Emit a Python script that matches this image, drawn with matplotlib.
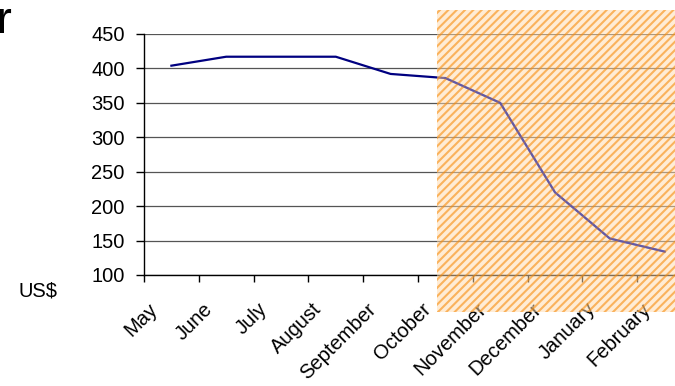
import matplotlib
matplotlib.use("Agg")
import matplotlib.pyplot as plt
from matplotlib.patches import Rectangle
from matplotlib.transforms import ScaledTranslation

plt.rcParams['font.family'] = ['Liberation Sans', 'DejaVu Sans']
plt.rcParams['hatch.linewidth'] = 1.5

months = ["May", "June", "July", "August", "September", "October",
          "November", "December", "January", "February"]
price = [404, 417, 417, 417, 392, 386, 350, 220, 153, 134]
y_ticks = [100, 150, 200, 250, 300, 350, 400, 450]
forecast_start = 5  # index of October, where the shaded region begins

W, H = 675, 386
DPI = 100
fig = plt.figure(figsize=(W / DPI, H / DPI), dpi=DPI)

# plot area (runs slightly past the right edge of the canvas)
left, right, top, bottom = 144, 692, 34, 275
ax = fig.add_axes([left / W, 1 - bottom / H, (right - left) / W, (bottom - top) / H])

x = list(range(len(months)))
ax.plot(x, price, color='#000080', lw=1.6, solid_joinstyle='round', zorder=3)

ax.set_xlim(-0.5, len(months) - 0.5)
ax.set_ylim(y_ticks[0], y_ticks[-1])
ax.set_yticks(y_ticks)
ax.set_yticklabels([str(v) for v in y_ticks], fontsize=14.5)

# tick marks sit on the boundaries between months
ax.set_xticks([i - 0.5 for i in range(len(months) + 1)])
ax.set_xticklabels([])
ax.tick_params(axis='x', which='major', length=5, width=1, color='black', direction='out')
ax.tick_params(axis='y', length=6, width=1, direction='out', pad=8)

# month names, rotated, ending just left of each month's centre
label_shift = ScaledTranslation(-17 / DPI, -31 / DPI, fig.dpi_scale_trans)
for i, name in enumerate(months):
    ax.text(i, 0, name, transform=ax.get_xaxis_transform() + label_shift,
            rotation=45, rotation_mode='anchor', ha='right', va='center',
            fontsize=14.5, clip_on=False, zorder=3)

ax.grid(axis='y', color='#555555', lw=0.9)
ax.set_axisbelow(True)
for s in ('top', 'right'):
    ax.spines[s].set_visible(False)
ax.spines['left'].set_linewidth(1)
ax.spines['bottom'].set_linewidth(1)

fig.text(18 / W, 1 - 291 / H, "US$", fontsize=14.5, va='center', ha='left')
fig.text(-3 / W, 1 - 33 / H, "r", fontsize=32, va='baseline', ha='left')

# hatched forecast region laid over the chart
x0, x1, y0, y1 = 437, 700, 10, 312
rect = Rectangle((x0 / W, 1 - y1 / H), (x1 - x0) / W, (y1 - y0) / H,
                 transform=fig.transFigure, facecolor=(1.0, 0.86, 0.68, 0.5),
                 edgecolor=(0.97, 0.55, 0.05, 0.6), hatch='////', lw=0,
                 zorder=10, clip_on=False)
ax.add_patch(rect)

# the price line seen through the translucent shading
ax.plot(x[forecast_start:], price[forecast_start:], color=(0.3, 0.3, 0.72, 0.6),
        lw=1.4, solid_joinstyle='round', zorder=11)

fig.savefig("out.png", dpi=DPI)
